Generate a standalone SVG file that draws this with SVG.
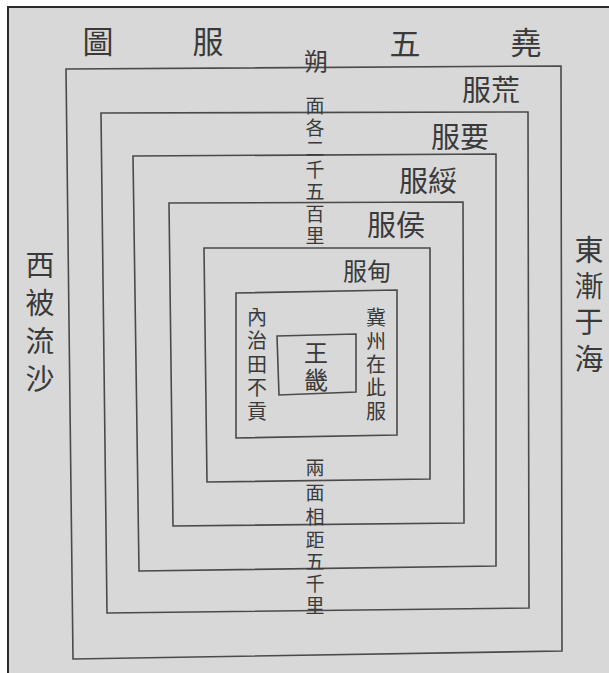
<svg xmlns="http://www.w3.org/2000/svg" width="609" height="673" viewBox="0 0 609 673">
<style>
.bg{fill:#d8d8d8}
.frame{fill:none;stroke:#2a2a2a;stroke-width:2}
.ring{fill:none;stroke:#4a4a4a;stroke-width:1.6;stroke-linejoin:miter}
.t{font-family:"Liberation Serif","Noto Sans CJK TC","Noto Sans CJK SC",serif;fill:#3a3a3a;text-anchor:middle;dominant-baseline:central}
.title{font-size:31px}
.lbl{font-size:29px}
.lblS{font-size:24px}
.side{font-size:29px}
.col{font-size:19px}
.inner{font-size:20px}
.core{font-size:24px}
</style>
<rect x="0" y="0" width="609" height="673" fill="#ffffff"/>
<rect class="bg" x="8" y="7" width="601" height="666"/>
<path class="frame" d="M8,673 L8,7 L609,7"/>

<g id="title">
<text class="t title" x="98" y="42">圖</text>
<text class="t title" x="208" y="42">服</text>
<text class="t title" x="405" y="44">五</text>
<text class="t title" x="526" y="43">堯</text>
</g>

<g id="west">
<text class="t side" x="40"><tspan x="40" y="266">西</tspan><tspan x="40" y="304">被</tspan><tspan x="40" y="342">流</tspan><tspan x="40" y="380">沙</tspan></text>
</g>
<g id="east">
<text class="t side" x="589"><tspan x="589" y="251">東</tspan><tspan x="589" y="287">漸</tspan><tspan x="589" y="323">于</tspan><tspan x="589" y="360">海</tspan></text>
</g>

<g id="huangfu">
<path class="ring" d="M66,69 L561,66 L562,651 L73,659 Z"/>
<text class="t lbl" x="491" y="91">服荒</text>
</g>
<g id="yaofu">
<path class="ring" d="M101,113 L528,112 L529,608 L107,613 Z"/>
<text class="t lbl" x="460" y="138">服要</text>
</g>
<g id="suifu">
<path class="ring" d="M133,156 L496,154 L496,566 L139,571 Z"/>
<text class="t lbl" x="428" y="182">服綏</text>
</g>
<g id="houfu">
<path class="ring" d="M169,203 L463,202 L464,523 L173,526 Z"/>
<text class="t lbl" x="396" y="226">服侯</text>
</g>
<g id="dianfu">
<path class="ring" d="M204,248 L430,248 L430,479 L207,482 Z"/>
<text class="t lblS" x="367" y="272">服甸</text>
</g>
<g id="inner">
<path class="ring" d="M236,293 L397,290 L397,435 L236,438 Z"/>
<text class="t inner"><tspan x="257" y="318">內</tspan><tspan x="257" y="341">治</tspan><tspan x="257" y="365">田</tspan><tspan x="257" y="388">不</tspan><tspan x="257" y="412">貢</tspan></text>
<text class="t inner"><tspan x="376" y="318">冀</tspan><tspan x="376" y="342">州</tspan><tspan x="376" y="365">在</tspan><tspan x="376" y="388">此</tspan><tspan x="376" y="412">服</tspan></text>
</g>
<g id="wangji">
<path class="ring" d="M277,336 L356,334 L356,392 L279,395 Z"/>
<text class="t core"><tspan x="316" y="354">王</tspan><tspan x="316" y="381">畿</tspan></text>
</g>

<g id="north-note">
<text class="t core" x="316" y="62">朔</text>
<text class="t col"><tspan x="315" y="106">面</tspan><tspan x="315" y="128">各</tspan><tspan x="315" y="149">二</tspan><tspan x="315" y="170">千</tspan><tspan x="315" y="192">五</tspan><tspan x="315" y="214">百</tspan><tspan x="315" y="236">里</tspan></text>
</g>
<g id="south-note">
<text class="t col"><tspan x="315" y="468">兩</tspan><tspan x="315" y="493">面</tspan><tspan x="315" y="517">相</tspan><tspan x="315" y="540">距</tspan><tspan x="315" y="562">五</tspan><tspan x="315" y="584">千</tspan><tspan x="315" y="606">里</tspan></text>
</g>
</svg>
